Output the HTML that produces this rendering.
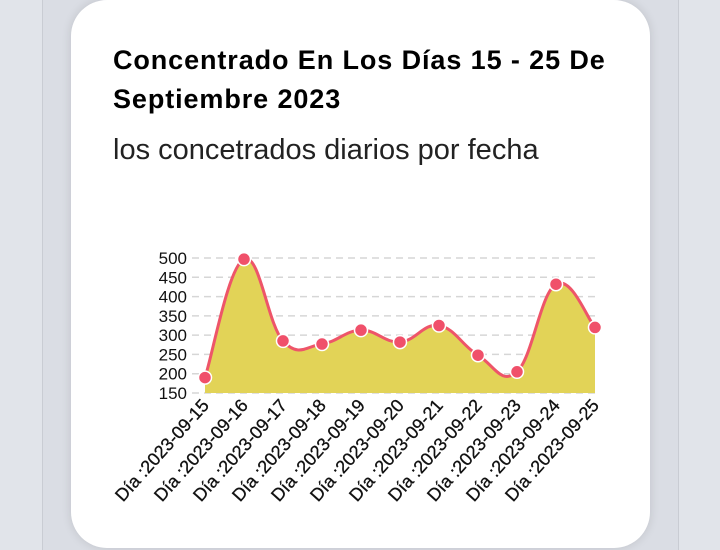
<!DOCTYPE html>
<html><head><meta charset="utf-8"><style>
html,body{margin:0;padding:0;width:720px;height:550px;overflow:hidden;background:#e1e4ea;}
.l1{position:absolute;left:42px;top:0;width:1px;height:550px;background:#c9ccd3;}
.l2{position:absolute;left:678px;top:0;width:1px;height:550px;background:#c9ccd3;}
.band{position:absolute;left:43px;top:0;width:635px;height:550px;background:#dadde4;}
.card{position:absolute;left:71px;top:0;width:579px;height:548px;background:#fff;border-radius:36px;box-shadow:0 0 10px rgba(0,0,0,0.12);}
.t{position:absolute;left:113px;top:41px;font:bold 27px/39px "Liberation Sans",sans-serif;color:#000;letter-spacing:0.9px;white-space:nowrap;}
.s{position:absolute;left:113px;top:133px;font:29px/34px "Liberation Sans",sans-serif;color:#222;letter-spacing:0px;white-space:nowrap;}
svg{position:absolute;left:0;top:0;}
</style></head><body>
<div class="band"></div><div class="l1"></div><div class="l2"></div>
<div class="card"></div>
<div class="t">Concentrado En Los Días 15 - 25 De<br>Septiembre 2023</div>
<div class="s">los concetrados diarios por fecha</div>
<svg id="c" width="720" height="550" xmlns="http://www.w3.org/2000/svg"></svg>
<script>
var v=[190,497,285,277,313,282,325,248,205,432,320];
function Y(a){return 393-(a-150)*135/350;}
var pts=v.map(function(a,i){return [205+39*i,Y(a)];});
var s='';
for(var k=150;k<=500;k+=50){var y=Y(k);
s+='<line x1="192" x2="597" y1="'+y+'" y2="'+y+'" stroke="#d6d6d6" stroke-width="1.5" stroke-dasharray="7,5"/>';
s+='<text x="187" y="'+(y+6)+'" text-anchor="end" font-family="Liberation Sans,sans-serif" font-size="17" fill="#111">'+k+'</text>';}
var d='M'+pts[0][0]+','+pts[0][1];
for(var i=0;i<pts.length-1;i++){var p0=pts[Math.max(0,i-1)],p1=pts[i],p2=pts[i+1],p3=pts[Math.min(pts.length-1,i+2)];
var t=0.2;var c1=[p1[0]+(p2[0]-p0[0])*t,p1[1]+(p2[1]-p0[1])*t],c2=[p2[0]-(p3[0]-p1[0])*t,p2[1]-(p3[1]-p1[1])*t];
d+=' C'+c1[0]+','+c1[1]+' '+c2[0]+','+c2[1]+' '+p2[0]+','+p2[1];}
s+='<path d="'+d+' L595,393 L205,393 Z" fill="#e2d357"/>';
s+='<path d="'+d+'" fill="none" stroke="#ee5569" stroke-width="3"/>';
pts.forEach(function(p,i){s+='<circle cx="'+p[0]+'" cy="'+p[1]+'" r="6.5" fill="#f0506a" stroke="#fff" stroke-width="1.5"/>';
var lx=p[0]+5,ly=406;
s+='<text transform="translate('+lx+','+ly+') rotate(-48)" text-anchor="end" font-family="Liberation Sans,sans-serif" font-size="18" fill="#111" stroke="#111" stroke-width="0.3">Día :2023-09-'+(15+i)+'</text>';});
document.getElementById('c').innerHTML=s;
</script>
</body></html>
